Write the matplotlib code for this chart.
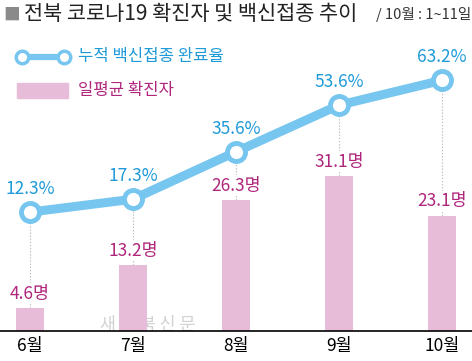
import numpy as np
import matplotlib
matplotlib.use('Agg')
import matplotlib.pyplot as plt
from matplotlib.patches import Rectangle
from matplotlib.lines import Line2D

plt.rcParams['font.family'] = ['Noto Sans CJK KR', 'DejaVu Sans']

# data
months = ['6월', '7월', '8월', '9월', '10월']
vaccine_rate = [12.3, 17.3, 35.6, 53.6, 63.2]     # 누적 백신접종 완료율 (%)
daily_cases = [4.6, 13.2, 26.3, 31.1, 23.1]       # 일평균 확진자 (명)

blue_line = '#77c6ef'
blue_text = '#1e9ad9'
pink_bar = '#e7bcd9'
magenta = '#b0267d'

fig = plt.figure(figsize=(4.72, 3.61), dpi=100)
ax = fig.add_axes([0, 30 / 361, 1, 331 / 361])
ax2 = ax.twinx()

x = np.arange(len(months))
ax.set_xlim(-0.291, 4.291)
ax.set_ylim(0, 66.5)
ax2.set_ylim(-33.6, 94.2)

# watermark (behind the bars)
ax.text(148 / 472, 6 / 331, '새 전 북 신 문', transform=ax.transAxes, fontsize=12.5,
        color='#d2d2d2', ha='center', va='center', zorder=0.5)

# bars
ax.bar(x, daily_cases, width=0.275, color=pink_bar, zorder=2)

# dotted guide from point down to bar label
lo1, hi1 = ax.get_ylim()
lo2, hi2 = ax2.get_ylim()
pt_on_ax = [lo1 + (v - lo2) / (hi2 - lo2) * (hi1 - lo1) for v in vaccine_rate]
ax.vlines(x, daily_cases, pt_on_ax, colors='#bbbbbb', linestyles=(0, (1.2, 1.6)),
          linewidth=0.8, zorder=1)

for xi, v in zip(x, daily_cases):
    ax.annotate(f'{v}명', (xi, v), xytext=(0, 4), textcoords='offset points',
                ha='center', va='bottom', fontsize=12.5, color=magenta, zorder=3,
                bbox=dict(boxstyle='square,pad=0.1', fc='white', ec='none'))

# line
ax2.plot(x, vaccine_rate, color=blue_line, linewidth=6.5, solid_capstyle='round',
         marker='o', markersize=13, markerfacecolor='white',
         markeredgecolor=blue_line, markeredgewidth=3.5, zorder=3)
for xi, v in zip(x, vaccine_rate):
    ax2.annotate(f'{v}%', (xi, v), xytext=(0, 10), textcoords='offset points',
                 ha='center', va='bottom', fontsize=12.5, color=blue_text)

for a in (ax, ax2):
    a.set_yticks([])
    for s in ['top', 'right', 'left']:
        a.spines[s].set_visible(False)
ax2.spines['bottom'].set_visible(False)
ax.spines['bottom'].set_linewidth(1.2)
ax.set_xticks(x)
ax.set_xticklabels(months, fontsize=12.5)
ax.tick_params(axis='x', length=0, pad=4)

# title
fig.text(3 / 472, 1 - 15 / 361, '■', fontsize=12, color='#8a8a8a', va='center')
fig.text(24 / 472, 1 - 14 / 361, '전북 코로나19 확진자 및 백신접종 추이',
         fontsize=15, color='#222222', va='center')
fig.text(1 - 1 / 472, 1 - 15 / 361, '/ 10월 : 1~11일', fontsize=10.5,
         color='#333333', va='center', ha='right')

# legend
fig.add_artist(Line2D([22 / 472, 64 / 472], [1 - 57 / 361] * 2, color=blue_line,
                      linewidth=4.5, marker='o', markersize=9,
                      markerfacecolor='white', markeredgecolor=blue_line,
                      markeredgewidth=2.5))
fig.text(78 / 472, 1 - 57 / 361, '누적 백신접종 완료율', fontsize=12,
         color=blue_text, va='center')
fig.add_artist(Rectangle((17 / 472, 1 - 98 / 361), 51 / 472, 15 / 361,
                         transform=fig.transFigure, color=pink_bar))
fig.text(78 / 472, 1 - 90 / 361, '일평균 확진자', fontsize=12,
         color=magenta, va='center')

fig.savefig('out.png', dpi=100)
